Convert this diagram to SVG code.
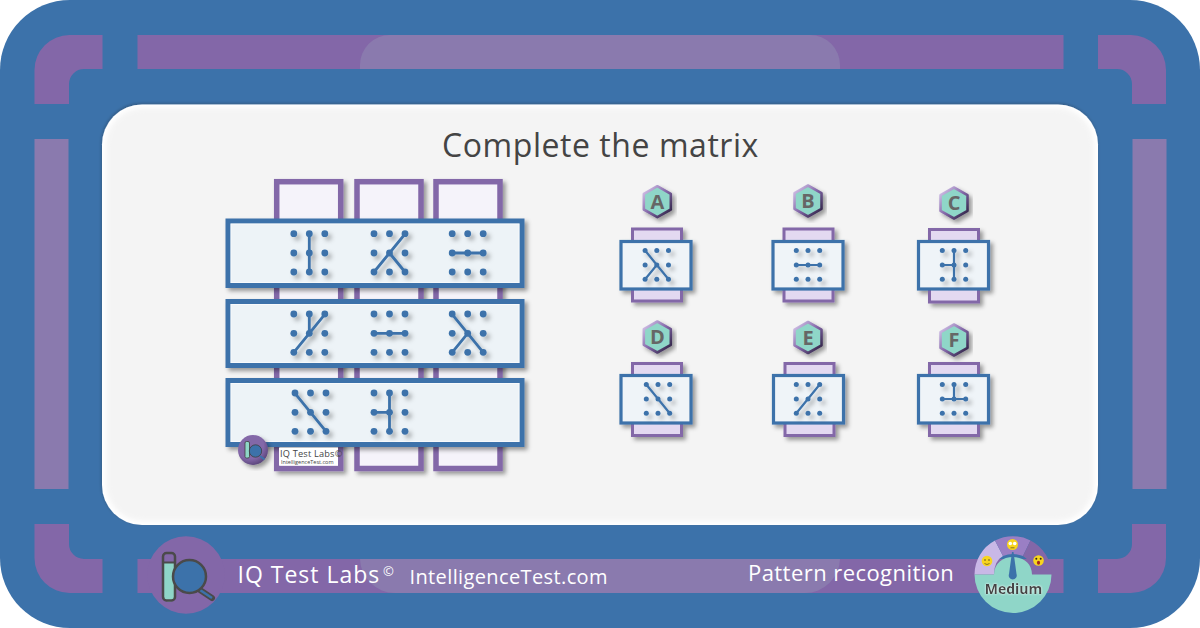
<svg xmlns="http://www.w3.org/2000/svg" width="1200" height="628" viewBox="0 0 1200 628">
<style>
text{font-family:"Open Sans","Noto Sans","Liberation Sans",sans-serif}
.fr{fill:#8367a8}.fl{fill:#8a7aae}
.vc{fill:#f5f3fa;stroke:#8367a8;stroke-width:5.500}
.hc{fill:#edf3f7;stroke:#3c72aa;stroke-width:5}
.vs{fill:#e3d9f1;stroke:#8367a8;stroke-width:3}
.hs{fill:#eff4f8;stroke:#3c72aa;stroke-width:3.200}
.hl{fill:none;stroke:#fff;stroke-width:1;opacity:.6}
.dl{fill:#3c72aa}
.ln{stroke:#3c72aa;stroke-width:2.800;stroke-linecap:round;fill:none}
.ls{stroke:#3c72aa;stroke-width:2.200;stroke-linecap:round;fill:none}
.hex{fill:#8fd6c8;stroke:url(#hs);stroke-width:2.600;stroke-linejoin:round}
.let{font-weight:700;font-size:20px;fill:#666;text-anchor:middle}
.em{fill:#f7d51d}.eye{fill:#5a4a20}
</style>
<defs>
<filter id="sh" x="-20%" y="-20%" width="140%" height="140%"><feDropShadow dx="3" dy="3" stdDeviation="2.200" flood-color="#000" flood-opacity=".38"/></filter>
<filter id="pat" x="-30%" y="-30%" width="160%" height="160%"><feDropShadow dx="3.500" dy="3.500" stdDeviation="2.200" flood-color="#000" flood-opacity=".28"/></filter>
<filter id="panel" x="-5%" y="-5%" width="110%" height="110%"><feDropShadow dx="-.5" dy="-1" stdDeviation="1.500" flood-color="#000" flood-opacity=".3"/></filter>
<filter id="soft" x="-5%" y="-5%" width="110%" height="110%"><feGaussianBlur stdDeviation="2.500"/></filter>
<filter id="glow" x="-20%" y="-40%" width="140%" height="180%"><feDropShadow dx="0" dy="0" stdDeviation="1" flood-color="#fff" flood-opacity="1"/></filter>
<linearGradient id="hs" x1="0" y1="0" x2="1" y2="1"><stop offset="0" stop-color="#dccdf0"/><stop offset=".5" stop-color="#8367a8"/><stop offset="1" stop-color="#241a38"/></linearGradient>
<radialGradient id="wm" cx=".4" cy=".35" r=".75"><stop offset=".6" stop-color="#8367a8"/><stop offset="1" stop-color="#4d3a6b"/></radialGradient>
<g id="gl"><circle class="dl" cx="-15.500" cy="-19.300" r="3.400"/><circle class="dl" cx="0" cy="-19.300" r="3.400"/><circle class="dl" cx="15.500" cy="-19.300" r="3.400"/><circle class="dl" cx="-15.500" cy="0" r="3.400"/><circle class="dl" cx="0" cy="0" r="3.400"/><circle class="dl" cx="15.500" cy="0" r="3.400"/><circle class="dl" cx="-15.500" cy="19" r="3.400"/><circle class="dl" cx="0" cy="19" r="3.400"/><circle class="dl" cx="15.500" cy="19" r="3.400"/></g>
<g id="gs"><circle class="dl" cx="-11.700" cy="-14.500" r="2.500"/><circle class="dl" cx="0" cy="-14.500" r="2.500"/><circle class="dl" cx="11.700" cy="-14.500" r="2.500"/><circle class="dl" cx="-11.700" cy="0" r="2.500"/><circle class="dl" cx="0" cy="0" r="2.500"/><circle class="dl" cx="11.700" cy="0" r="2.500"/><circle class="dl" cx="-11.700" cy="14.200" r="2.500"/><circle class="dl" cx="0" cy="14.200" r="2.500"/><circle class="dl" cx="11.700" cy="14.200" r="2.500"/></g>
<polygon id="hx" points="0,-15.500 13.500,-7.800 13.500,7.800 0,15.500 -13.500,7.800 -13.500,-7.800"/>
</defs>

<g id="background">
<rect width="1200" height="628" fill="#fff"/>
<rect width="1200" height="628" rx="70" fill="#3c72aa"/>
</g>

<g id="frame">
<path class="fr" d="M34.500 104V70A35 35 0 0 1 69.500 35H102.500V69H84A15 15 0 0 0 69 84V104Z"/>
<path class="fr" d="M1166 104V70A35 35 0 0 0 1131 35H1098V69H1117A15 15 0 0 1 1132 84V104Z"/>
<path class="fr" d="M34.500 524V558A35 35 0 0 0 69.500 593H102.500V559H84A15 15 0 0 1 69 544V524Z"/>
<path class="fr" d="M1166 524V558A35 35 0 0 1 1131 593H1098V559H1117A15 15 0 0 0 1132 544V524Z"/>
<rect class="fr" x="137.500" y="35" width="926" height="34"/>
<rect class="fr" x="137.500" y="559" width="926" height="34"/>
<rect class="fl" x="34.500" y="139" width="34" height="350"/>
<rect class="fl" x="1132.500" y="139" width="34" height="350"/>
<path class="fl" d="M360 69V65A30 30 0 0 1 390 35H810A30 30 0 0 1 840 65V69Z"/>
<path class="fl" d="M360 559A35 35 0 0 0 395 593H805A35 35 0 0 0 840 559Z"/>
</g>

<g id="panel-box">
<rect x="102" y="104.500" width="996" height="420.500" rx="40" fill="#fff" filter="url(#panel)"/>
<rect x="106" y="108" width="988" height="413" rx="37" fill="#f4f4f4" filter="url(#soft)"/>
</g>

<text id="title" x="600.500" y="157" font-size="32" letter-spacing=".55" fill="#444" text-anchor="middle">Complete the matrix</text>

<g id="matrix-vertical-cards" filter="url(#sh)">
<rect class="vc" x="276.700" y="181.700" width="64" height="286.800"/>
<rect class="vc" x="357" y="181.700" width="64" height="286.800"/>
<rect class="vc" x="436" y="181.700" width="64" height="286.800"/>
</g>

<g id="row-1">
<rect class="hc" x="228" y="221" width="294" height="64.500" filter="url(#sh)"/>
<rect class="hl" x="231" y="224" width="288" height="58.500"/>
<g filter="url(#pat)"><g id="r1c1" transform="translate(309.300 253)"><use href="#gl"/><path class="ln" d="M0-19V19"/></g>
<g id="r1c2" transform="translate(389.500 253)"><use href="#gl"/><path class="ln" d="M15.500-19L-15.500 19M0 0L15.500 19"/></g>
<g id="r1c3" transform="translate(467.700 253)"><use href="#gl"/><path class="ln" d="M-15.500 0H15.500"/></g></g>
</g>
<g id="row-2">
<rect class="hc" x="228" y="301.500" width="294" height="64" filter="url(#sh)"/>
<rect class="hl" x="231" y="304.500" width="288" height="58"/>
<g filter="url(#pat)"><g id="r2c1" transform="translate(309.300 333.300)"><use href="#gl"/><path class="ln" d="M15.500-19L-15.500 19M0-19V0"/></g>
<g id="r2c2" transform="translate(389.500 333.300)"><use href="#gl"/><path class="ln" d="M-15.500 0H15.500"/></g>
<g id="r2c3" transform="translate(467.700 333.300)"><use href="#gl"/><path class="ln" d="M-15.500-19L15.500 19M0 0L-15.500 19"/></g></g>
</g>
<g id="row-3">
<rect class="hc" x="228" y="380.500" width="294" height="64" filter="url(#sh)"/>
<rect class="hl" x="231" y="383.500" width="288" height="58"/>
<g filter="url(#pat)"><g id="r3c1" transform="translate(310.500 412.300)"><use href="#gl"/><path class="ln" d="M-15.500-19L15.500 19"/></g>
<g id="r3c2" transform="translate(389.500 412.300)"><use href="#gl"/><path class="ln" d="M0-19V19M-15.500 0H0"/></g></g>
</g>

<g id="watermark">
<circle cx="253" cy="450" r="15" fill="url(#wm)" filter="url(#sh)"/>
<rect x="245" y="441.500" width="4.500" height="16.500" rx="1.500" fill="#8fd6c8" stroke="#3f3f3f" stroke-width=".8"/>
<path d="M260 456L264.500 459.500" stroke="#3c72aa" stroke-width="2"/>
<circle cx="255.500" cy="451" r="6.200" fill="#3c72aa" stroke="#3f3f3f" stroke-width=".8"/>
<rect x="279" y="447.700" width="59" height="17.800" fill="#fff"/>
<text x="280" y="456.800" font-size="9.200" letter-spacing=".2" fill="#444">IQ Test Labs©</text>
<text x="281" y="463.500" font-size="5.500" fill="#444">IntelligenceTest.com</text>
</g>

<g id="option-A">
<g filter="url(#sh)"><rect class="vs" x="632.500" y="229" width="49" height="72"/><rect class="hs" x="621" y="241.500" width="70" height="47.500"/></g>
<g filter="url(#pat)" transform="translate(656.800 265)"><use href="#gs"/><path class="ls" d="M-11.700-14.500L11.700 14.200M0 0L-11.700 14.200"/></g>
<g filter="url(#sh)" transform="translate(657.300 201.700)"><use class="hex" href="#hx"/></g><text class="let" x="657.300" y="208.700">A</text>
</g>
<g id="option-B">
<g filter="url(#sh)"><rect class="vs" x="784" y="229" width="49" height="72"/><rect class="hs" x="773" y="241.500" width="70" height="47.500"/></g>
<g filter="url(#pat)" transform="translate(808 265)"><use href="#gs"/><path class="ls" d="M-11.700 0H11.700"/></g>
<g filter="url(#sh)" transform="translate(808 201)"><use class="hex" href="#hx"/></g><text class="let" x="808" y="208">B</text>
</g>
<g id="option-C">
<g filter="url(#sh)"><rect class="vs" x="929.500" y="229.500" width="49" height="72.500"/><rect class="hs" x="918.500" y="241.500" width="70" height="47.500"/></g>
<g filter="url(#pat)" transform="translate(954 265)"><use href="#gs"/><path class="ls" d="M0-14.500V14.200M-11.700 0H0"/></g>
<g filter="url(#sh)" transform="translate(954 203)"><use class="hex" href="#hx"/></g><text class="let" x="954" y="210">C</text>
</g>
<g id="option-D">
<g filter="url(#sh)"><rect class="vs" x="632.500" y="363.500" width="49" height="72"/><rect class="hs" x="621" y="375.500" width="70" height="47.500"/></g>
<g filter="url(#pat)" transform="translate(658 399)"><use href="#gs"/><path class="ls" d="M-11.700-14.500L11.700 14.200"/></g>
<g filter="url(#sh)" transform="translate(657.300 337)"><use class="hex" href="#hx"/></g><text class="let" x="657.300" y="344">D</text>
</g>
<g id="option-E">
<g filter="url(#sh)"><rect class="vs" x="785" y="363.500" width="49" height="72"/><rect class="hs" x="773.500" y="375.500" width="70" height="47.500"/></g>
<g filter="url(#pat)" transform="translate(808 399)"><use href="#gs"/><path class="ls" d="M11.700-14.500L-11.700 14.200"/></g>
<g filter="url(#sh)" transform="translate(808 337.500)"><use class="hex" href="#hx"/></g><text class="let" x="808" y="344.500">E</text>
</g>
<g id="option-F">
<g filter="url(#sh)"><rect class="vs" x="929.500" y="363.500" width="49" height="72"/><rect class="hs" x="918.500" y="375.500" width="70" height="47.500"/></g>
<g filter="url(#pat)" transform="translate(954 399)"><use href="#gs"/><path class="ls" d="M0-14.500V0M-11.700 0H11.700"/></g>
<g filter="url(#sh)" transform="translate(954 340)"><use class="hex" href="#hx"/></g><text class="let" x="954" y="347">F</text>
</g>

<g id="footer-logo">
<circle cx="186" cy="575" r="38.700" fill="#8367a8"/>
<path d="M164 563H174.500V596.500A5 5 0 0 1 164 596.500Z" fill="#8fd6c8"/>
<rect x="163" y="553" width="12" height="47.500" rx="3.500" fill="none" stroke="#4a4a4a" stroke-width="2.500"/>
<path d="M163 562.500H175" stroke="#4a4a4a" stroke-width="2"/>
<path d="M200 590L212 598" stroke="#4a4a4a" stroke-width="6" stroke-linecap="round"/>
<path d="M200 590L212 598" stroke="#3c72aa" stroke-width="2.500"/>
<circle cx="189.500" cy="576.500" r="16.500" fill="#3c72aa" stroke="#4a4a4a" stroke-width="2.500"/>
</g>
<g id="footer-text" fill="#fff">
<text x="237.500" y="583" font-size="23" letter-spacing="1">IQ Test Labs</text>
<text x="383" y="576" font-size="13">©</text>
<text x="409.500" y="584" font-size="20" letter-spacing=".38">IntelligenceTest.com</text>
<text x="748" y="581" font-size="22" letter-spacing=".44">Pattern recognition</text>
</g>

<g id="gauge">
<path d="M974.500 574.500A38.500 38.500 0 0 1 995 540.500L1003 556Q994 561 994 574.500Z" fill="#c9b8e6"/>
<path d="M995 540.500A38.500 38.500 0 0 1 1030.500 540.500L1023 556Q1013 552 1003 556Z" fill="#9a7fc4"/>
<path d="M1030.500 540.500A38.500 38.500 0 0 1 1051.500 574.500H1032Q1032 561 1023 556Z" fill="#8367a8"/>
<path d="M974.500 574.500H994C994 563 1003 557 1013 557S1032 563 1032 574.500H1051.500A38.500 38.500 0 0 1 974.500 574.500Z" fill="#8fd6c8"/>
<path d="M1012 552H1013.500L1016.500 574A4 4 0 1 1 1009 574Z" fill="#3c72aa"/>
<g id="face-low"><circle class="em" cx="987" cy="561" r="5.300"/><circle class="eye" cx="985" cy="560" r=".8"/><circle class="eye" cx="989" cy="560" r=".8"/><path d="M984.500 563.500Q987 565.500 989.500 563.500" stroke="#5a4a20" stroke-width=".7" fill="none"/></g>
<g id="face-mid"><circle class="em" cx="1012.500" cy="544.500" r="5.500"/><circle cx="1010.300" cy="543.500" r="1.800" fill="#fff"/><circle cx="1014.700" cy="543.500" r="1.800" fill="#fff"/><path d="M1010.500 547.800H1014.500" stroke="#5a4a20" stroke-width=".7"/></g>
<g id="face-high"><circle class="em" cx="1038.500" cy="560.500" r="5.300"/><circle cx="1036.300" cy="558.800" r="1" fill="#3a2a10"/><circle cx="1040.700" cy="558.800" r="1" fill="#3a2a10"/><ellipse cx="1038.500" cy="562.800" rx="1.600" ry="2" fill="#a5261c"/></g>
<text x="1013.500" y="594" font-size="14" font-weight="700" fill="#444" text-anchor="middle" filter="url(#glow)">Medium</text>
</g>
</svg>
